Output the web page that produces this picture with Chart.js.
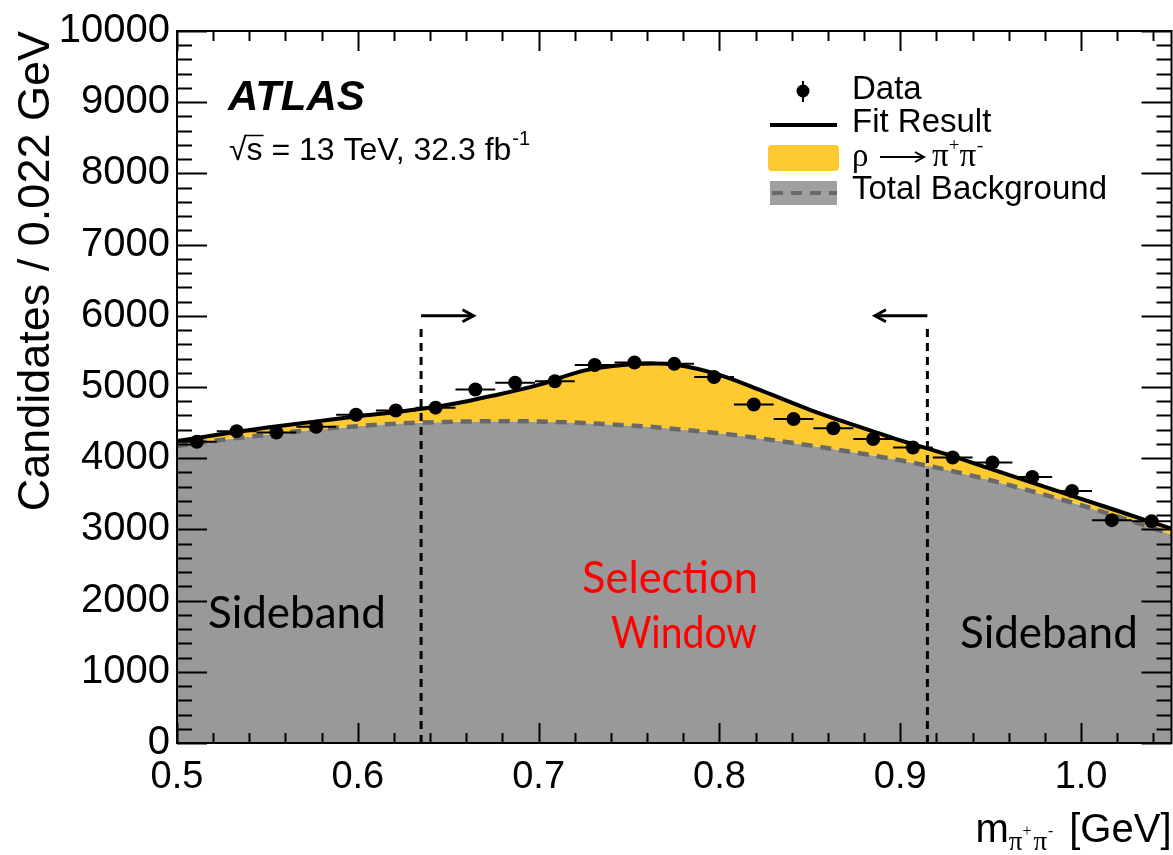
<!DOCTYPE html>
<html>
<head>
<meta charset="utf-8">
<title>Candidates vs m(pi+pi-)</title>
<script src="https://cdn.jsdelivr.net/npm/chart.js@4.4.1/dist/chart.umd.min.js"></script>
<style>
    html, body { margin: 0; padding: 0; background: #fff; overflow: hidden; }
    #wrap { width: 1173px; height: 855px; }
    canvas { display: block; }
</style>
</head>
<body>
<div id="wrap"><canvas id="mass_chart" width="1173" height="855"></canvas></div>
<script>
// histogram: bin centres (GeV, bins 0.022 wide) and counts per bin
let binCentres = [0.511, 0.533, 0.555, 0.577, 0.599, 0.621, 0.643, 0.665, 0.687, 0.709,
                  0.731, 0.753, 0.775, 0.797, 0.819, 0.841, 0.863, 0.885, 0.907, 0.929,
                  0.951, 0.973, 0.995, 1.017, 1.039];
let candidates = [4230, 4380, 4360, 4440, 4610, 4670, 4710, 4965, 5060, 5080,
                  5310, 5345, 5325, 5140, 4755, 4550, 4420, 4270, 4150, 4010,
                  3940, 3735, 3540, 3130, 3115];
let binHalfWidth = 0.011;

// fit curves sampled along the mass axis
let fitMass = [0.50, 0.525, 0.55, 0.575, 0.60, 0.625, 0.65, 0.675, 0.70, 0.725, 0.75, 0.765,
               0.775, 0.80, 0.825, 0.85, 0.875, 0.90, 0.925, 0.95, 0.975, 1.00, 1.025, 1.05];
let fitTotal = [4240, 4340, 4430, 4510, 4590, 4660, 4750, 4880, 5030, 5230, 5315, 5330,
                5315, 5170, 4930, 4680, 4460, 4250, 4060, 3850, 3640, 3430, 3220, 3010];
let fitBackground = [4170, 4260, 4330, 4400, 4450, 4490, 4510, 4520, 4515, 4495, 4460, 4435,
                     4410, 4350, 4270, 4180, 4080, 3970, 3840, 3690, 3520, 3340, 3140, 2930];

// selection window edges (GeV) and the height of the arrows
let selectionWindow = [0.635, 0.915];
let arrowLevel = 6000;

let xTicks = [0.5, 0.6, 0.7, 0.8, 0.9, 1.0];
let yTicks = [0, 1000, 2000, 3000, 4000, 5000, 6000, 7000, 8000, 9000, 10000];

const SANS = "'Liberation Sans', Arial, Helvetica, sans-serif";
const SERIF = "'Liberation Serif', 'Times New Roman', serif";
const BKG_GREY = 'rgb(153,153,153)';
const BKG_LINE = 'rgb(105,105,105)';
const RHO_YELLOW = 'rgb(255,202,48)';

function fitPoints(values) {
    return fitMass.map((m, i) => ({ x: m, y: values[i] }));
}

// data error bars go in between the fit line and the markers
const dataErrors = {
    id: 'dataErrors',
    afterDatasetDraw(chart, args) {
        if (args.index !== 1) return;
        const { ctx, scales: { x, y } } = chart;
        ctx.save();
        ctx.strokeStyle = '#000';
        ctx.lineWidth = 2;
        ctx.beginPath();
        binCentres.forEach((m, i) => {
            const n = candidates[i];
            const py = y.getPixelForValue(n);
            const px = x.getPixelForValue(m);
            ctx.moveTo(x.getPixelForValue(m - binHalfWidth), py);
            ctx.lineTo(x.getPixelForValue(m + binHalfWidth), py);
            ctx.moveTo(px, y.getPixelForValue(n - Math.sqrt(n)));
            ctx.lineTo(px, y.getPixelForValue(n + Math.sqrt(n)));
        });
        ctx.stroke();
        ctx.restore();
    }
};

// frame with inward ticks on all sides, plus the selection window markers
const frameAndWindow = {
    id: 'frameAndWindow',
    afterDatasetsDraw(chart) {
        const { ctx, chartArea: a, scales: { x, y } } = chart;
        ctx.save();

        // selection window: dashed verticals with arrows pointing inwards
        selectionWindow.forEach((edge, k) => {
            const px = x.getPixelForValue(edge);
            const top = y.getPixelForValue(arrowLevel);
            ctx.strokeStyle = '#000';
            ctx.lineWidth = 3;
            ctx.setLineDash([8, 6]);
            ctx.beginPath();
            ctx.moveTo(px, y.getPixelForValue(0));
            ctx.lineTo(px, top + 8);
            ctx.stroke();
            ctx.setLineDash([]);
            const dir = k === 0 ? 1 : -1;
            const tip = x.getPixelForValue(edge + dir * 0.029);
            ctx.beginPath();
            ctx.moveTo(px, top);
            ctx.lineTo(tip, top);
            ctx.stroke();
            ctx.beginPath();
            ctx.moveTo(tip - dir * 11, top - 6);
            ctx.lineTo(tip, top);
            ctx.lineTo(tip - dir * 11, top + 6);
            ctx.stroke();
        });

        // ticks
        ctx.strokeStyle = '#000';
        ctx.lineWidth = 2;
        ctx.beginPath();
        for (let i = 0; i <= 27; i++) {
            const v = 0.5 + i * 0.02;
            const px = Math.round(x.getPixelForValue(v)) + 0.5;
            const len = i % 5 === 0 ? 20 : 10;
            ctx.moveTo(px, a.bottom);
            ctx.lineTo(px, a.bottom - len);
            ctx.moveTo(px, a.top);
            ctx.lineTo(px, a.top + len);
        }
        for (let i = 0; i <= 50; i++) {
            const v = i * 200;
            const py = Math.round(y.getPixelForValue(v)) + 0.5;
            const len = i % 5 === 0 ? 30 : 15;
            ctx.moveTo(a.left, py);
            ctx.lineTo(a.left + len, py);
            ctx.moveTo(a.right, py);
            ctx.lineTo(a.right - len, py);
        }
        ctx.stroke();
        ctx.strokeRect(a.left, a.top, a.right - a.left, a.bottom - a.top);
        ctx.restore();
    }
};

function drawArrow(ctx, x0, x1, yy) {
    ctx.beginPath();
    ctx.moveTo(x0, yy);
    ctx.lineTo(x1, yy);
    ctx.moveTo(x1 - 9, yy - 5);
    ctx.lineTo(x1, yy);
    ctx.lineTo(x1 - 9, yy + 5);
    ctx.stroke();
}

// ATLAS label, legend, region names and the mass axis title
const annotations = {
    id: 'annotations',
    afterDraw(chart) {
        const { ctx, chartArea: a } = chart;
        ctx.save();
        ctx.fillStyle = '#000';
        ctx.strokeStyle = '#000';
        ctx.textBaseline = 'alphabetic';

        ctx.font = `italic bold 42px ${SANS}`;
        ctx.fillText('ATLAS', 228, 110);

        ctx.font = `32px ${SANS}`;
        ctx.fillText('\u221A', 229, 160);
        let cx = 229 + ctx.measureText('\u221A').width;
        ctx.lineWidth = 1.5;
        ctx.beginPath();
        ctx.moveTo(cx - 2, 135.5);
        ctx.lineTo(cx + ctx.measureText('s').width + 1, 135.5);
        ctx.stroke();
        const energy = 's = 13 TeV, 32.3 fb';
        ctx.fillText(energy, cx, 160);
        cx += ctx.measureText(energy).width;
        ctx.font = `20px ${SANS}`;
        ctx.fillText('-1', cx + 1, 145);

        // legend
        const lx = 852;
        ctx.font = `33px ${SANS}`;
        ctx.textBaseline = 'middle';
        ctx.fillText('Data', lx, 90);
        ctx.fillText('Fit Result', lx, 123);
        ctx.fillText('Total Background', lx, 190);

        ctx.beginPath();
        ctx.arc(803, 91, 6.5, 0, Math.PI * 2);
        ctx.fill();
        ctx.lineWidth = 2;
        ctx.beginPath();
        ctx.moveTo(803, 81);
        ctx.lineTo(803, 102);
        ctx.stroke();

        ctx.lineWidth = 4;
        ctx.beginPath();
        ctx.moveTo(770, 125);
        ctx.lineTo(837, 125);
        ctx.stroke();

        ctx.fillStyle = RHO_YELLOW;
        ctx.beginPath();
        ctx.roundRect(768, 145, 71, 26, 4);
        ctx.fill();

        ctx.fillStyle = 'rgb(160,160,160)';
        ctx.fillRect(770, 181, 67, 24);
        ctx.strokeStyle = BKG_LINE;
        ctx.lineWidth = 4;
        ctx.setLineDash([11, 8]);
        ctx.beginPath();
        ctx.moveTo(772, 193);
        ctx.lineTo(837, 193);
        ctx.stroke();
        ctx.setLineDash([]);

        ctx.fillStyle = '#000';
        ctx.strokeStyle = '#000';
        ctx.font = `33px ${SERIF}`;
        ctx.fillText('\u03C1', lx, 157);
        ctx.lineWidth = 2;
        drawArrow(ctx, 880, 924, 157);
        let rx = 932;
        ctx.fillText('\u03C0', rx, 157);
        rx += ctx.measureText('\u03C0').width;
        ctx.font = `19px ${SERIF}`;
        ctx.fillText('+', rx, 146);
        rx += ctx.measureText('+').width;
        ctx.font = `33px ${SERIF}`;
        ctx.fillText('\u03C0', rx, 157);
        rx += ctx.measureText('\u03C0').width;
        ctx.font = `19px ${SERIF}`;
        ctx.fillText('-', rx + 1, 146);

        // region names
        ctx.textBaseline = 'alphabetic';
        ctx.font = `44px Lato, 'Open Sans', sans-serif`;
        ctx.textAlign = 'left';
        ctx.fillText('Sideband', 208, 628);
        ctx.fillText('Sideband', 960, 648);
        ctx.fillStyle = 'rgb(255,0,0)';
        ctx.textAlign = 'center';
        ctx.fillText('Selection', 670, 593, 176);
        ctx.fillText('Window', 684, 648, 146);

        // mass axis title, right aligned to the frame
        ctx.fillStyle = '#000';
        ctx.textAlign = 'left';
        const base = 842;
        ctx.font = `40px ${SANS}`;
        const gev = ' [GeV]';
        const wGev = ctx.measureText(gev).width;
        const wM = ctx.measureText('m').width;
        ctx.font = `27px ${SERIF}`;
        const wSub = ctx.measureText('\u03C0\u03C0').width + 22;
        let tx = a.right - wGev - wSub - wM;
        ctx.font = `40px ${SANS}`;
        ctx.fillText('m', tx, base);
        tx += wM;
        ctx.font = `27px ${SERIF}`;
        ctx.fillText('\u03C0', tx, base + 8);
        tx += ctx.measureText('\u03C0').width;
        ctx.font = `16px ${SERIF}`;
        ctx.fillText('+', tx, base - 6);
        tx += 11;
        ctx.font = `27px ${SERIF}`;
        ctx.fillText('\u03C0', tx, base + 8);
        tx += ctx.measureText('\u03C0').width;
        ctx.font = `16px ${SERIF}`;
        ctx.fillText('-', tx + 1, base - 6);
        tx += 11;
        ctx.font = `40px ${SANS}`;
        ctx.fillText(gev, tx, base);
        ctx.restore();
    }
};

let massCanvas = document.getElementById('mass_chart').getContext('2d');

new Chart(massCanvas, {
    type: 'line',
    data: {
        datasets: [
            {
                label: 'Data',
                type: 'scatter',
                data: binCentres.map((m, i) => ({ x: m, y: candidates[i] })),
                pointRadius: 7,
                pointBackgroundColor: '#000',
                pointBorderWidth: 0,
                showLine: false,
                order: 0
            },
            {
                label: 'Fit Result',
                data: fitPoints(fitTotal),
                borderColor: '#000',
                borderWidth: 4,
                pointRadius: 0,
                cubicInterpolationMode: 'monotone',
                fill: false,
                order: 1
            },
            {
                label: 'Total Background',
                data: fitPoints(fitBackground),
                borderColor: BKG_LINE,
                borderWidth: 4.5,
                borderDash: [11, 8],
                pointRadius: 0,
                cubicInterpolationMode: 'monotone',
                fill: false,
                order: 2
            },
            {
                label: 'rho signal',
                data: fitPoints(fitTotal),
                borderColor: 'transparent',
                borderWidth: 1,
                pointRadius: 0,
                cubicInterpolationMode: 'monotone',
                backgroundColor: RHO_YELLOW,
                fill: 4,
                order: 3
            },
            {
                label: 'background area',
                data: fitPoints(fitBackground),
                borderColor: 'transparent',
                borderWidth: 1,
                pointRadius: 0,
                cubicInterpolationMode: 'monotone',
                backgroundColor: BKG_GREY,
                fill: 'origin',
                order: 4
            }
        ]
    },
    options: {
        responsive: false,
        animation: false,
        devicePixelRatio: 1,
        layout: { autoPadding: false, padding: { top: 30, right: 1.5, left: 0, bottom: 0 } },
        plugins: {
            legend: { display: false },
            tooltip: { enabled: false }
        },
        scales: {
            x: {
                type: 'linear',
                min: 0.5,
                max: 1.05,
                grid: { display: false, drawTicks: false },
                border: { display: false },
                afterBuildTicks: s => { s.ticks = xTicks.map(v => ({ value: v })); },
                afterFit: s => { s.height = 112; },
                ticks: {
                    padding: 12,
                    color: '#000',
                    maxRotation: 0,
                    autoSkip: false,
                    font: { family: SANS, size: 38 },
                    callback: v => v.toFixed(1)
                }
            },
            y: {
                type: 'linear',
                min: 0,
                max: 10000,
                grid: { display: false, drawTicks: false },
                border: { display: false },
                afterBuildTicks: s => { s.ticks = yTicks.map(v => ({ value: v })); },
                afterFit: s => { s.width = 177; },
                ticks: {
                    padding: 7,
                    color: '#000',
                    autoSkip: false,
                    font: { family: SANS, size: 40 },
                    callback: v => String(v)
                },
                title: {
                    display: true,
                    text: 'Candidates / 0.022 GeV',
                    align: 'end',
                    color: '#000',
                    font: { family: SANS, size: 45 },
                    padding: { top: 10, bottom: 0 }
                }
            }
        }
    },
    plugins: [dataErrors, frameAndWindow, annotations]
});
</script>
</body>
</html>
